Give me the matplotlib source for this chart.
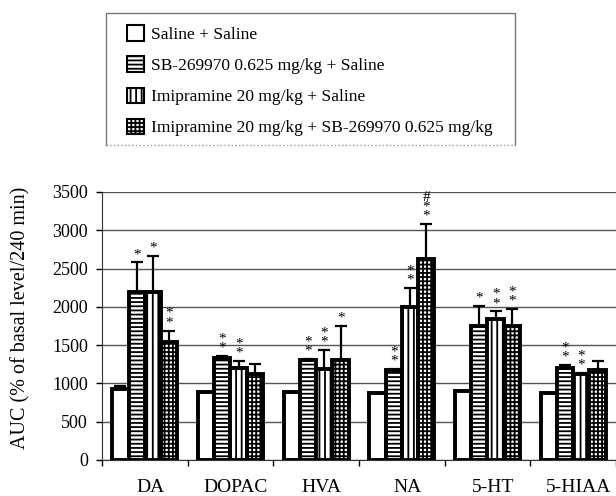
import numpy as np
import matplotlib.pyplot as plt
import matplotlib.transforms as mtransforms
from matplotlib.patches import Patch
from matplotlib.lines import Line2D

plt.rcParams['font.family'] = ['Liberation Serif', 'DejaVu Serif']
plt.rcParams['hatch.linewidth'] = 1.3

# data
categories = ['DA', 'DOPAC', 'HVA', 'NA', '5-HT', '5-HIAA']
series_names = ['Saline + Saline',
                'SB-269970 0.625 mg/kg + Saline',
                'Imipramine 20 mg/kg + Saline',
                'Imipramine 20 mg/kg + SB-269970 0.625 mg/kg']
saline = [930, 890, 885, 870, 905, 870]
sb = [2200, 1330, 1300, 1170, 1750, 1200]
imi = [2200, 1200, 1190, 2000, 1840, 1120]
combo = [1540, 1125, 1300, 2620, 1750, 1170]
saline_err = [40, 0, 0, 0, 0, 0]
sb_err = [380, 30, 20, 20, 260, 35]
imi_err = [470, 90, 250, 250, 100, 20]
combo_err = [150, 125, 450, 460, 225, 125]
saline_sig = ['', '', '', '', '', '']
sb_sig = ['*', '**', '**', '**', '*', '**']
imi_sig = ['*', '**', '**', '**', '**', '**']
combo_sig = ['**', '', '*', '#**', '**', '']
yticks = [0, 500, 1000, 1500, 2000, 2500, 3000, 3500]

values = [saline, sb, imi, combo]
errors = [saline_err, sb_err, imi_err, combo_err]
sigs = [saline_sig, sb_sig, imi_sig, combo_sig]
hatches = ['', '----', '|||', '++++']

fig = plt.figure(figsize=(6.16, 4.96), dpi=100)
ax = fig.add_axes([102/616, 36/496, 1 - 102/616, 268/496])

x = np.arange(len(categories))
w = 0.19
for i in range(4):
    pos = x + (i - 1.5) * w
    ax.bar(pos, values[i], w, color='white', edgecolor='black',
           linewidth=2.8, hatch=hatches[i], zorder=3)
    ax.errorbar(pos, values[i], yerr=[np.zeros(len(x)), errors[i]], fmt='none',
                ecolor='black', elinewidth=1.6, capsize=4.5, capthick=1.6, zorder=4)
    for j in range(len(x)):
        mark = sigs[i][j]
        if not mark:
            continue
        top = values[i][j] + errors[i][j]
        ax.annotate('\n'.join(mark), xy=(pos[j], top), xytext=(0, 1),
                    textcoords='offset points', ha='center', va='bottom',
                    fontsize=11, linespacing=0.62)

ax.set_ylim(0, 3500)
ax.set_xlim(-0.5, 5.5)
ax.set_yticks(yticks)
ax.set_xticks(x)
ax.set_xticklabels(categories)
ax.set_xticks(np.arange(len(categories) + 1) - 0.5, minor=True)
ax.tick_params(axis='x', which='major', length=0, pad=14, labelsize=14)
ax.tick_params(axis='x', which='minor', length=4, width=1)
ax.tick_params(axis='y', length=4, width=1, pad=6, labelsize=13)
# labels sit a little right of the group centres in the original
shift = mtransforms.ScaledTranslation(4/72, 0, fig.dpi_scale_trans)
for lbl in ax.get_xticklabels():
    lbl.set_transform(lbl.get_transform() + shift)
ax.grid(axis='y', color='#555555', linewidth=1, zorder=0)
ax.set_axisbelow(True)
for s in ['top', 'right']:
    ax.spines[s].set_visible(False)
ax.spines['left'].set_color('#333333')
ax.spines['bottom'].set_color('#333333')

ax.set_ylabel('AUC (% of basal level/240 min)', fontsize=14.5)
ax.yaxis.set_label_coords(-0.14, 0.53)

handles = [Patch(facecolor='white', edgecolor='black', linewidth=1.5, hatch=h)
           for h in hatches]
leg = fig.legend(handles, series_names, loc='upper left',
                 bbox_to_anchor=(127/616, 1 - 25/496), borderaxespad=0,
                 fontsize=12.5, frameon=False,
                 handlelength=1.0, handleheight=1.0, handletextpad=0.4,
                 labelspacing=0.78, borderpad=0)

# legend box: solid grey on three sides, dotted along the bottom
bx0, bx1, by0, by1 = 106/616, 515/616, 1 - 145/496, 1 - 13/496
fig.add_artist(Line2D([bx0, bx0, bx1, bx1], [by0, by1, by1, by0],
                      transform=fig.transFigure, color='#777777', lw=1))
fig.add_artist(Line2D([bx0, bx1], [by0, by0], transform=fig.transFigure,
                      color='#999999', lw=1, ls=':'))

fig.savefig('out.png', dpi=100)
